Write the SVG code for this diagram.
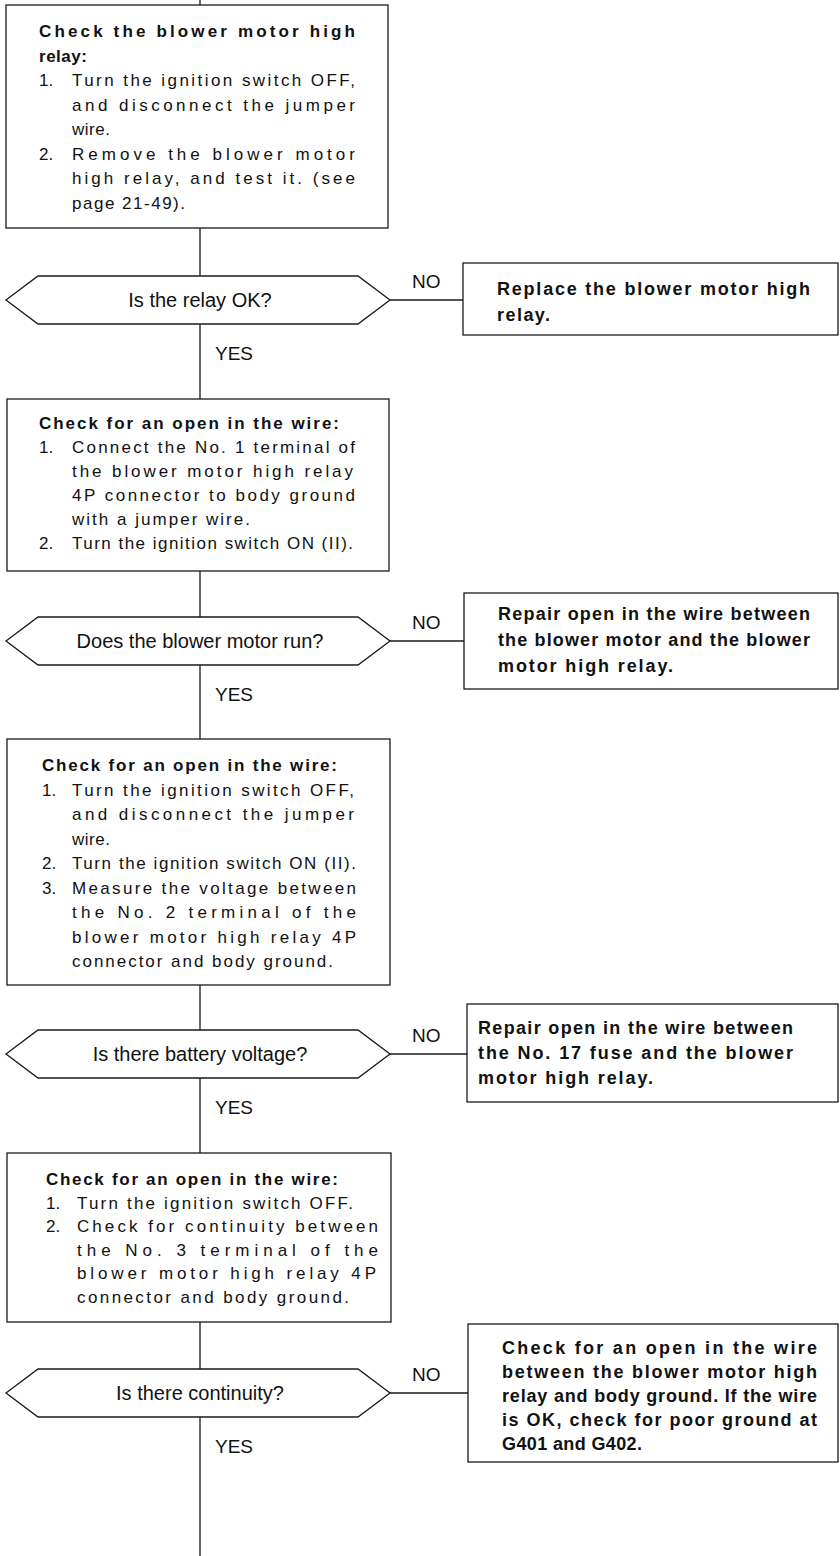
<svg xmlns="http://www.w3.org/2000/svg" width="840" height="1556" viewBox="0 0 840 1556">
<style>
.box{fill:#fff;stroke:#1a1a1a;stroke-width:1.3}
.ln{stroke:#1a1a1a;stroke-width:1.3;fill:none}
text{fill:#111;font-family:"Liberation Sans",Arial,sans-serif}
.b{font-size:17px}
.h{font-size:17px;font-weight:bold}
.r{font-size:18px;font-weight:bold}
.d{font-size:20px;text-anchor:middle}
.l{font-size:19px}
</style>
<rect width="840" height="1556" fill="#fff"/>
<g id="connectors">
<line class="ln" x1="200" y1="0" x2="200" y2="5"/>
<line class="ln" x1="200" y1="228" x2="200" y2="276"/>
<line class="ln" x1="200" y1="324" x2="200" y2="399"/>
<line class="ln" x1="200" y1="571" x2="200" y2="617"/>
<line class="ln" x1="200" y1="665" x2="200" y2="739"/>
<line class="ln" x1="200" y1="985" x2="200" y2="1030"/>
<line class="ln" x1="200" y1="1078" x2="200" y2="1153"/>
<line class="ln" x1="200" y1="1322" x2="200" y2="1369"/>
<line class="ln" x1="200" y1="1417" x2="200" y2="1556"/>
<line class="ln" x1="390" y1="300" x2="463" y2="300"/>
<line class="ln" x1="390" y1="641" x2="464" y2="641"/>
<line class="ln" x1="390" y1="1054" x2="467" y2="1054"/>
<line class="ln" x1="390" y1="1393" x2="468" y2="1393"/>
<text class="l" x="412" y="288">NO</text>
<text class="l" x="215" y="360">YES</text>
<text class="l" x="412" y="629">NO</text>
<text class="l" x="215" y="701">YES</text>
<text class="l" x="412" y="1042">NO</text>
<text class="l" x="215" y="1114">YES</text>
<text class="l" x="412" y="1381">NO</text>
<text class="l" x="215" y="1453">YES</text>
</g>
<g id="box1">
<rect class="box" x="6" y="5" width="382" height="223"/>
<text class="h" x="39" y="37" textLength="316" lengthAdjust="spacing">Check the blower motor high</text>
<text class="h" x="39" y="61.5" textLength="48" lengthAdjust="spacing">relay:</text>
<text class="b" x="39" y="86">1.</text>
<text class="b" x="72" y="86" textLength="283" lengthAdjust="spacing">Turn the ignition switch OFF,</text>
<text class="b" x="72" y="110.5" textLength="283" lengthAdjust="spacing">and disconnect the jumper</text>
<text class="b" x="72" y="135" textLength="38" lengthAdjust="spacing">wire.</text>
<text class="b" x="39" y="159.5">2.</text>
<text class="b" x="72" y="159.5" textLength="283" lengthAdjust="spacing">Remove the blower motor</text>
<text class="b" x="72" y="184" textLength="283" lengthAdjust="spacing">high relay, and test it. (see</text>
<text class="b" x="72" y="208.5" textLength="113" lengthAdjust="spacing">page 21-49).</text>
</g>
<g id="dec1">
<polygon class="box" points="6,300 38,276 358,276 390,300 358,324 38,324"/>
<text class="d" x="200" y="307">Is the relay OK?</text>
</g>
<g id="res1">
<rect class="box" x="463" y="263" width="375" height="72"/>
<text class="r" x="497" y="295" textLength="313" lengthAdjust="spacing">Replace the blower motor high</text>
<text class="r" x="497" y="321" textLength="53" lengthAdjust="spacing">relay.</text>
</g>
<g id="box2">
<rect class="box" x="7" y="399" width="382" height="172"/>
<text class="h" x="39" y="429" textLength="300" lengthAdjust="spacing">Check for an open in the wire:</text>
<text class="b" x="39" y="453">1.</text>
<text class="b" x="72" y="453" textLength="283" lengthAdjust="spacing">Connect the No. 1 terminal of</text>
<text class="b" x="72" y="477" textLength="281" lengthAdjust="spacing">the blower motor high relay</text>
<text class="b" x="72" y="501" textLength="283" lengthAdjust="spacing">4P connector to body ground</text>
<text class="b" x="72" y="525" textLength="178" lengthAdjust="spacing">with a jumper wire.</text>
<text class="b" x="39" y="549">2.</text>
<text class="b" x="72" y="549" textLength="281" lengthAdjust="spacing">Turn the ignition switch ON (II).</text>
</g>
<g id="dec2">
<polygon class="box" points="6,641 38,617 358,617 390,641 358,665 38,665"/>
<text class="d" x="200" y="648">Does the blower motor run?</text>
</g>
<g id="res2">
<rect class="box" x="464" y="593" width="374" height="96"/>
<text class="r" x="498" y="620" textLength="312" lengthAdjust="spacing">Repair open in the wire between</text>
<text class="r" x="498" y="646" textLength="312" lengthAdjust="spacing">the blower motor and the blower</text>
<text class="r" x="498" y="672" textLength="175" lengthAdjust="spacing">motor high relay.</text>
</g>
<g id="box3">
<rect class="box" x="7" y="739" width="383" height="246"/>
<text class="h" x="42" y="771" textLength="295" lengthAdjust="spacing">Check for an open in the wire:</text>
<text class="b" x="42" y="795.5">1.</text>
<text class="b" x="72" y="795.5" textLength="282" lengthAdjust="spacing">Turn the ignition switch OFF,</text>
<text class="b" x="72" y="820" textLength="282" lengthAdjust="spacing">and disconnect the jumper</text>
<text class="b" x="72" y="844.5" textLength="38" lengthAdjust="spacing">wire.</text>
<text class="b" x="42" y="869">2.</text>
<text class="b" x="72" y="869" textLength="284" lengthAdjust="spacing">Turn the ignition switch ON (II).</text>
<text class="b" x="42" y="893.5">3.</text>
<text class="b" x="72" y="893.5" textLength="284" lengthAdjust="spacing">Measure the voltage between</text>
<text class="b" x="72" y="918" textLength="284" lengthAdjust="spacing">the No. 2 terminal of the</text>
<text class="b" x="72" y="942.5" textLength="284" lengthAdjust="spacing">blower motor high relay 4P</text>
<text class="b" x="72" y="967" textLength="261" lengthAdjust="spacing">connector and body ground.</text>
</g>
<g id="dec3">
<polygon class="box" points="6,1054 38,1030 358,1030 390,1054 358,1078 38,1078"/>
<text class="d" x="200" y="1061">Is there battery voltage?</text>
</g>
<g id="res3">
<rect class="box" x="467" y="1004" width="371" height="98"/>
<text class="r" x="478" y="1034" textLength="315" lengthAdjust="spacing">Repair open in the wire between</text>
<text class="r" x="478" y="1059" textLength="315" lengthAdjust="spacing">the No. 17 fuse and the blower</text>
<text class="r" x="478" y="1084" textLength="175" lengthAdjust="spacing">motor high relay.</text>
</g>
<g id="box4">
<rect class="box" x="7" y="1153" width="384" height="169"/>
<text class="h" x="46" y="1185" textLength="292" lengthAdjust="spacing">Check for an open in the wire:</text>
<text class="b" x="46" y="1208.5">1.</text>
<text class="b" x="77" y="1208.5" textLength="276" lengthAdjust="spacing">Turn the ignition switch OFF.</text>
<text class="b" x="46" y="1232">2.</text>
<text class="b" x="77" y="1232" textLength="301" lengthAdjust="spacing">Check for continuity between</text>
<text class="b" x="77" y="1255.5" textLength="301" lengthAdjust="spacing">the No. 3 terminal of the</text>
<text class="b" x="77" y="1279" textLength="299" lengthAdjust="spacing">blower motor high relay 4P</text>
<text class="b" x="77" y="1302.5" textLength="272" lengthAdjust="spacing">connector and body ground.</text>
</g>
<g id="dec4">
<polygon class="box" points="6,1393 38,1369 358,1369 390,1393 358,1417 38,1417"/>
<text class="d" x="200" y="1400">Is there continuity?</text>
</g>
<g id="res4">
<rect class="box" x="468" y="1324" width="370" height="138"/>
<text class="r" x="502" y="1354" textLength="315" lengthAdjust="spacing">Check for an open in the wire</text>
<text class="r" x="502" y="1378" textLength="315" lengthAdjust="spacing">between the blower motor high</text>
<text class="r" x="502" y="1402" textLength="315" lengthAdjust="spacing">relay and body ground. If the wire</text>
<text class="r" x="502" y="1426" textLength="315" lengthAdjust="spacing">is OK, check for poor ground at</text>
<text class="r" x="502" y="1450" textLength="140" lengthAdjust="spacing">G401 and G402.</text>
</g>
</svg>
